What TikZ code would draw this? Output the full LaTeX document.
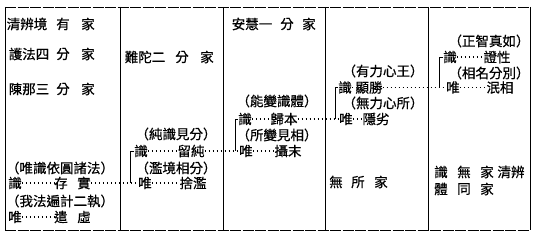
\documentclass[tikz,border=0pt]{standalone}
\usepackage{fontspec}
\newfontfamily\cjk[FakeBold=0.6]{Noto Sans CJK TC}
\begin{document}
\begin{tikzpicture}[x=1pt,y=-1pt,
  every node/.style={inner sep=0pt, font=\cjk\fontsize{13.5}{13.5}\selectfont},
  dotline/.style={line width=1.5pt, dash pattern=on 1.5pt off 2.5pt},
  bracket/.style={line width=0.9pt},
  frame/.style={line width=0.9pt},
  hframe/.style={line width=0.9pt, dash pattern=on 11pt off 1.5pt}]
\useasboundingbox (0,0) rectangle (533,238);
% frame
\draw[hframe] (5,7) -- (530,7);
\draw[hframe] (5,230) -- (530,230);
\draw[frame] (5,7) -- (5,230);
\draw[frame] (530,7) -- (530,230);
\foreach \x in {120,223,325,428} \draw[frame] (\x,7) -- (\x,230);
% column 1 headers
\node (h1a) at (27,24) {清辨境};
\node (h1b) at (63,24) {有};
\node (h1c) at (88,24) {家};
\node (h2a) at (29,54) {護法四};
\node (h2b) at (63,54) {分};
\node (h2c) at (88,54) {家};
\node (h3a) at (29,89) {陳那三};
\node (h3b) at (63,89) {分};
\node (h3c) at (88,89) {家};
% column 1 body
\node (p11) at (60,168) {（唯識依圓諸法）};
\node (s1) at (15,183) {識};
\node (s1a) at (61,183) {存};
\node (s1b) at (84,183) {實};
\node (p12) at (60,201) {（我法遍計二執）};
\node (w1) at (15,217) {唯};
\node (w1a) at (61,217) {遣};
\node (w1b) at (84,217) {虛};
% column 2
\node (h4a) at (145,57) {難陀二};
\node (h4b) at (182,57) {分};
\node (h4c) at (207,57) {家};
\node (p21) at (176,134) {（純識見分）};
\node (s2) at (141,151) {識};
\node (s2a) at (191,151) {留純};
\node (p22) at (176,168) {（濫境相分）};
\node (w2) at (145,183) {唯};
\node (w2a) at (193,183) {捨濫};
\coordinate (b2) at (130,183);
% column 3
\node (h5a) at (252,24) {安慧一};
\node (h5b) at (287,24) {分};
\node (h5c) at (309,24) {家};
\node (p31) at (277,101) {（能變識體）};
\node (s3) at (245,119) {識};
\node (s3a) at (284,119) {歸本};
\node (p32) at (277,135) {（所變見相）};
\node (w3) at (246,151) {唯};
\node (w3a) at (288,151) {攝末};
\coordinate (b3) at (235,151);
% column 4
\node (p41) at (383,71) {（有力心王）};
\node (s4) at (345,87.5) {識};
\node (s4a) at (369,87.5) {顯勝};
\node (p42) at (383,103) {（無力心所）};
\node (w4) at (346,119) {唯};
\node (w4a) at (376,119) {隱劣};
\coordinate (b4) at (335,119);
\node (f4a) at (336,182) {無};
\node (f4b) at (358,182) {所};
\node (f4c) at (381,182) {家};
% column 5
\node (p51) at (489,41) {（正智真如）};
\node (s5) at (450,57) {識};
\node (s5a) at (497,57) {證性};
\node (p52) at (489,73) {（相名分別）};
\node (w5) at (453,87.5) {唯};
\node (w5a) at (500,87.5) {泯相};
\coordinate (b5) at (439,87.5);
\node (f5a) at (441,172) {識};
\node (f5b) at (464,172) {無};
\node (f5c) at (487,172) {家};
\node (f5d) at (511,172) {清辨};
\node (f5e) at (441,189) {體};
\node (f5f) at (464,189) {同};
\node (f5g) at (487,189) {家};
% dotted connectors
\draw[dotline] (s1.east) -- (s1a.west);
\draw[dotline] (s1b.east) -- (w2.west);
\draw[dotline] (w1.east) -- (w1a.west);
\draw[dotline] (s2.east) -- (s2a.west);
\draw[dotline] (s2a.east) -- (w3.west);
\draw[dotline] (w2.east) -- (w2a.west);
\draw[dotline] (s3.east) -- (s3a.west);
\draw[dotline] (s3a.east) -- (w4.west);
\draw[dotline] (w3.east) -- (w3a.west);
\draw[dotline] (s4.east) -- (s4a.west);
\draw[dotline] (s4a.east) -- (w5.west);
\draw[dotline] (w4.east) -- (w4a.west);
\draw[dotline] (s5.east) -- (s5a.west);
\draw[dotline] (w5.east) -- (w5a.west);
% brackets
\draw[bracket] (s2.west) -| (b2);
\draw[bracket] (s3.west) -| (b3);
\draw[bracket] (s4.west) -| (b4);
\draw[bracket] (s5.west) -| (b5);
\end{tikzpicture}
\end{document}
